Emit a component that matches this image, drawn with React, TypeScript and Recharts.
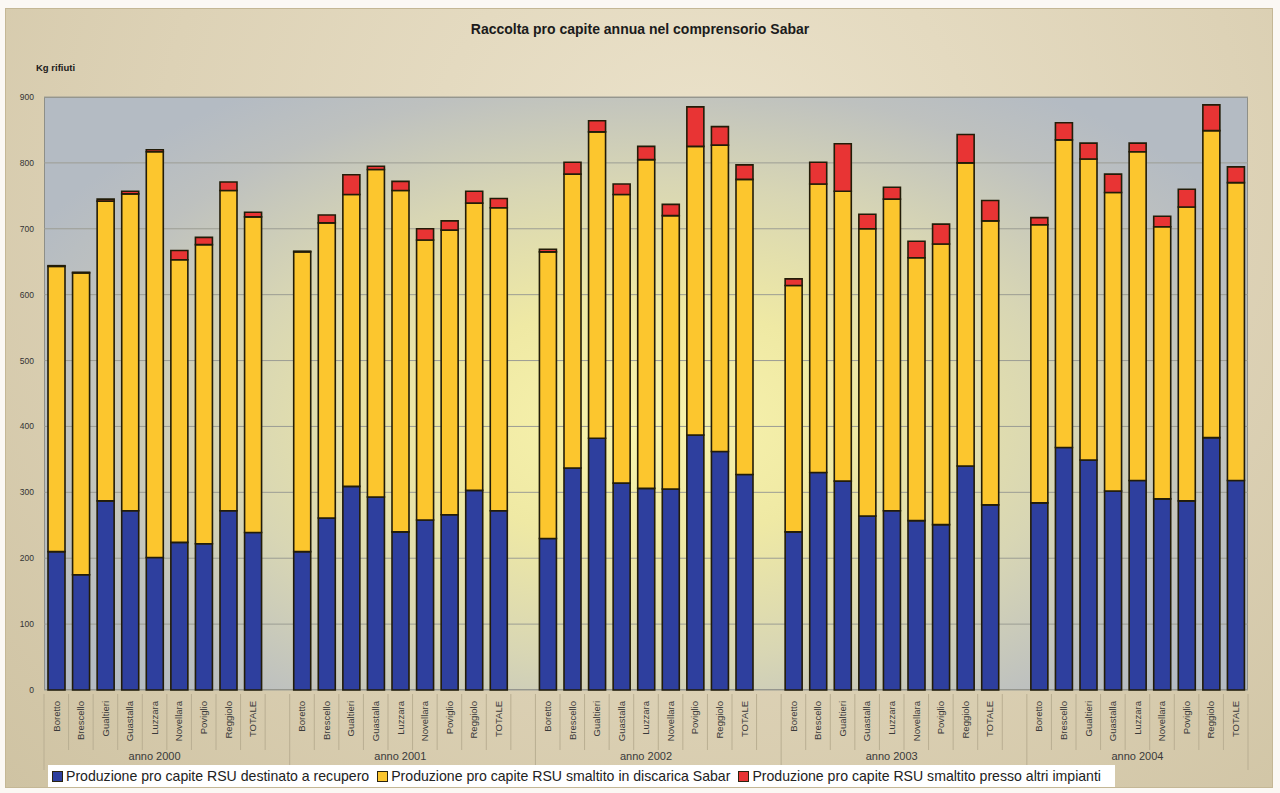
import { Bar, BarChart, CartesianGrid, Legend, XAxis, YAxis } from 'recharts'

const comuni = ['Boretto', 'Brescello', 'Gualtieri', 'Guastalla', 'Luzzara', 'Novellara', 'Poviglio', 'Reggiolo', 'TOTALE']
const anni = ['anno 2000', 'anno 2001', 'anno 2002', 'anno 2003', 'anno 2004']

// kg per abitante, una riga per anno, un valore per comune
const recupero = [
  [210, 175, 287, 272, 201, 224, 222, 272, 239],
  [210, 261, 309, 293, 240, 258, 266, 303, 272],
  [230, 337, 382, 314, 306, 305, 387, 362, 327],
  [240, 330, 317, 264, 272, 257, 251, 340, 281],
  [284, 368, 349, 302, 318, 290, 287, 383, 318],
]
const discarica = [
  [433, 458, 455, 481, 616, 429, 454, 486, 479],
  [455, 448, 443, 497, 518, 425, 432, 436, 460],
  [435, 446, 465, 438, 499, 415, 438, 465, 448],
  [374, 438, 440, 436, 473, 399, 426, 460, 431],
  [422, 467, 457, 453, 499, 413, 446, 466, 452],
]
const altriImpianti = [
  [1, 1, 3, 4, 3, 14, 11, 13, 7],
  [1, 12, 30, 5, 14, 17, 14, 18, 14],
  [4, 18, 17, 16, 20, 17, 60, 28, 22],
  [10, 33, 72, 22, 18, 25, 30, 43, 31],
  [11, 26, 24, 28, 13, 16, 27, 39, 24],
]
const yTicks = [0, 100, 200, 300, 400, 500, 600, 700, 800, 900]

const serieNames = [
  'Produzione pro capite RSU destinato a recupero',
  'Produzione pro capite RSU smaltito in discarica Sabar',
  'Produzione pro capite RSU smaltito presso altri impianti',
]
const serieColors = ['#2e3f9e', '#fcc62e', '#e83434']

type Row = { name: string, year: string, recupero?: number, discarica?: number, altri?: number }

const data: Row[] = []
anni.forEach((anno, a) => {
  comuni.forEach((c, i) => {
    data.push({ name: c, year: anno, recupero: recupero[a][i], discarica: discarica[a][i], altri: altriImpianti[a][i] })
  })
  if (a < anni.length - 1) data.push({ name: '', year: anno })
})

const FONT = '"Liberation Sans", Arial, sans-serif'
const W = 1280
const H = 793
const PLOT_LEFT = 44
const PLOT_TOP = 97
const PLOT_W = 1204
const PLOT_H = 593
const SLOT = PLOT_W / data.length

function NameTick(props: any) {
  const { x, y, payload, index } = props
  const left = x - SLOT / 2
  const long = index % 10 === 0
  return (
    <g>
      <line x1={left} y1={y - 4} x2={left} y2={y + (long ? 72 : 52)} stroke="#b9ae92" strokeWidth={1} />
      {index === data.length - 1 && (
        <line x1={x + SLOT / 2} y1={y - 4} x2={x + SLOT / 2} y2={y + 72} stroke="#b9ae92" strokeWidth={1} />
      )}
      <text transform={`translate(${x},${y + 3}) rotate(-90)`} textAnchor="end" dy="0.35em"
        fontSize={9.5} fill="#3a3a3a" fontFamily={FONT}>
        {payload.value}
      </text>
    </g>
  )
}

function YearTick(props: any) {
  const { x, y, payload, index } = props
  if (index % 10 !== 4) return <g />
  return (
    <text x={x} y={y} dy="0.4em" textAnchor="middle" fontSize={11} fill="#3a3a3a" fontFamily={FONT}>
      {payload.value}
    </text>
  )
}

function LegendBox() {
  return (
    <div style={{ background: '#ffffff', width: 1067, height: 22, display: 'flex', alignItems: 'center',
      fontFamily: FONT, fontSize: 14.1, color: '#222', boxSizing: 'border-box', paddingLeft: 4, whiteSpace: 'nowrap' }}>
      {serieNames.map((n, i) => (
        <span key={n} style={{ display: 'flex', alignItems: 'center', marginRight: 8 }}>
          <span style={{ width: 9, height: 9, background: serieColors[i], border: '1px solid #2b2410', marginRight: 3 }} />
          {n}
        </span>
      ))}
    </div>
  )
}

export default function App() {
  return (
    <div style={{ position: 'absolute', left: 0, top: 0, width: W, height: H, background: '#fbf8f4', overflow: 'hidden' }}>
      <div style={{ position: 'absolute', left: 5, top: 8, width: 1268, height: 780,
        background: 'radial-gradient(ellipse at 55% 20%, #ebe2ca 0%, #ddd2b6 55%, #cfc3a3 100%)',
        border: '1px solid #c4b795', boxSizing: 'border-box' }} />
      <div style={{ position: 'absolute', left: PLOT_LEFT, top: PLOT_TOP, width: PLOT_W, height: PLOT_H,
        background: 'radial-gradient(ellipse 58% 68% at 50% 55%, #f9f4ae 0%, #efe9a4 30%, #d8d6b4 60%, #bec1bf 85%, #b4bbc3 100%)',
        border: '1px solid #8e8f88', boxSizing: 'border-box' }} />
      <div style={{ position: 'absolute', left: 0, top: 21, width: W, textAlign: 'center', fontFamily: FONT,
        fontWeight: 'bold', fontSize: 14, color: '#1b1b1b' }}>
        Raccolta pro capite annua nel comprensorio Sabar
      </div>
      <div style={{ position: 'absolute', left: 36, top: 62, fontFamily: FONT, fontWeight: 'bold', fontSize: 9.5, color: '#1b1b1b' }}>
        Kg rifiuti
      </div>
      <div style={{ position: 'absolute', left: 0, top: 0 }}>
        <BarChart width={W} height={H} data={data} margin={{ top: PLOT_TOP, right: W - PLOT_LEFT - PLOT_W, left: 8, bottom: 6 }}
          barSize={17}>
          <CartesianGrid horizontal vertical={false} stroke="#9c9d94" strokeWidth={1} />
          <XAxis dataKey="name" interval={0} height={58} axisLine={false} tickLine={false} tick={<NameTick />} />
          <XAxis xAxisId="year" dataKey="year" interval={0} height={17} axisLine={false} tickLine={false} tick={<YearTick />} />
          <YAxis width={36} domain={[0, 900]} ticks={yTicks} interval={0} axisLine={false} tickLine={false}
            tickMargin={4} tick={{ fontSize: 8.5, fill: '#333', fontFamily: FONT }} />
          <Legend verticalAlign="bottom" content={<LegendBox />} wrapperStyle={{ left: 48, width: 1067 }} />
          <Bar dataKey="recupero" stackId="a" name={serieNames[0]} fill={serieColors[0]} stroke="#221c08" strokeWidth={1.6} isAnimationActive={false} />
          <Bar dataKey="discarica" stackId="a" name={serieNames[1]} fill={serieColors[1]} stroke="#221c08" strokeWidth={1.6} isAnimationActive={false} />
          <Bar dataKey="altri" stackId="a" name={serieNames[2]} fill={serieColors[2]} stroke="#221c08" strokeWidth={1.6} isAnimationActive={false} />
        </BarChart>
      </div>
    </div>
  )
}
